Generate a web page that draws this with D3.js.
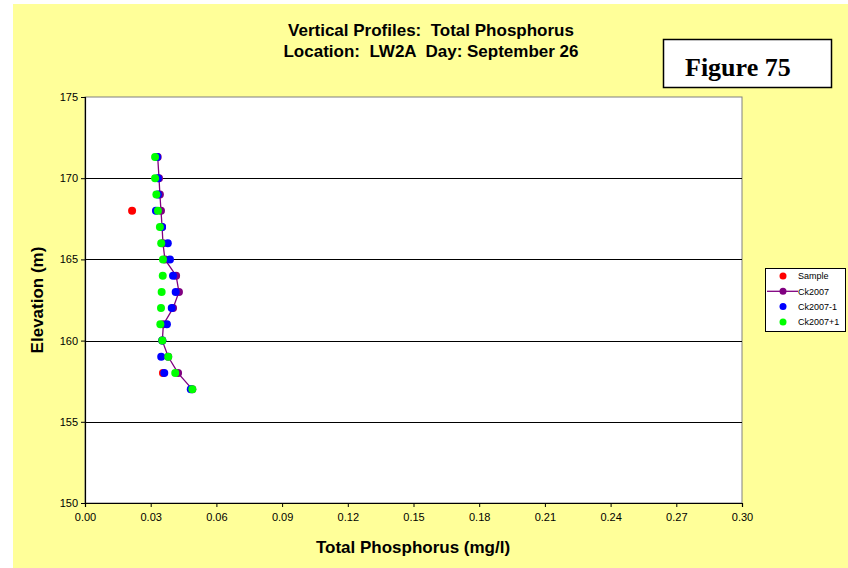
<!DOCTYPE html>
<html>
<head>
<meta charset="utf-8">
<script src="https://cdn.jsdelivr.net/npm/d3@7"></script>
<style>
  html, body { margin: 0; padding: 0; background: #ffffff; }
  svg { display: block; font-family: "Liberation Sans", Arial, sans-serif; }
  text { white-space: pre; }
</style>
</head>
<body>
<svg id="chart" width="848" height="568"></svg>
<script>
// Elevation (m) of each sampled depth
const elevations = [171.3, 170, 169, 168, 167, 166, 165, 164, 163, 162, 161, 160, 159, 158, 157];

// Total phosphorus (mg/l) per model run, one value per elevation
const ck2007      = [0.0332, 0.0338, 0.0342, 0.0347, 0.0352, 0.0356, 0.0365, 0.0416, 0.0429, 0.0402, 0.0358, 0.0353, 0.0380, 0.0425, 0.0490];
const ck2007minus = [0.0329, 0.0333, 0.0333, 0.0324, 0.0352, 0.0378, 0.0388, 0.0402, 0.0414, 0.0396, 0.0374, 0.0353, 0.0348, 0.0362, 0.0483];
const ck2007plus  = [0.0320, 0.0320, 0.0326, 0.0333, 0.0342, 0.0348, 0.0356, 0.0355, 0.0350, 0.0347, 0.0344, 0.0353, 0.0380, 0.0412, 0.0490];

// Field samples
const sampleElev = [168, 158];
const sampleTP   = [0.0215, 0.0356];

// Axis ticks
const xTicks = [0.00, 0.03, 0.06, 0.09, 0.12, 0.15, 0.18, 0.21, 0.24, 0.27, 0.30];
const yTicks = [150, 155, 160, 165, 170, 175];

const seriesNames = ["Sample", "Ck2007", "Ck2007-1", "Ck2007+1"];
const seriesColors = ["#ff0000", "#800080", "#0000ff", "#00ff00"];

const svg = d3.select("#chart");

// Yellow chart background
svg.append("rect").attr("x", 13).attr("y", 4).attr("width", 835).attr("height", 564).attr("fill", "#ffff99");

const plot = { left: 85, right: 742, top: 97, bottom: 503 };

const x = d3.scaleLinear().domain([0, 0.30]).range([plot.left, plot.right]);
const y = d3.scaleLinear().domain([150, 175]).range([plot.bottom, plot.top]);

// Plot area
svg.append("rect")
  .attr("x", plot.left).attr("y", plot.top)
  .attr("width", plot.right - plot.left).attr("height", plot.bottom - plot.top)
  .attr("fill", "#ffffff").attr("stroke", "#808080").attr("stroke-width", 1);

// Horizontal gridlines
svg.append("g").selectAll("line")
  .data(yTicks.filter(t => t > 150 && t < 175))
  .join("line")
  .attr("x1", plot.left).attr("x2", plot.right)
  .attr("y1", d => Math.round(y(d)) + 0.5).attr("y2", d => Math.round(y(d)) + 0.5)
  .attr("stroke", "#000000").attr("stroke-width", 1);

// Axes
const xAxis = svg.append("g")
  .attr("transform", `translate(0,${plot.bottom})`)
  .call(d3.axisBottom(x).tickValues(xTicks).tickFormat(d3.format(".2f")).tickSize(4).tickPadding(6));
const yAxis = svg.append("g")
  .attr("transform", `translate(${plot.left},0)`)
  .call(d3.axisLeft(y).tickValues(yTicks).tickFormat(d3.format("d")).tickSize(4).tickPadding(3));

[xAxis, yAxis].forEach(g => {
  g.select(".domain").attr("stroke", "#000000").attr("stroke-width", 1.2);
  g.selectAll(".tick line").attr("stroke", "#000000");
  g.selectAll(".tick text").attr("fill", "#000000")
    .style("font-family", "'Liberation Sans', Arial, sans-serif").style("font-size", "11px");
});

// Ck2007 profile line
const line = d3.line().x(d => x(d[0])).y(d => y(d[1]));
svg.append("path")
  .datum(ck2007.map((v, i) => [v, elevations[i]]))
  .attr("d", line).attr("fill", "none").attr("stroke", "#800080").attr("stroke-width", 1.3);

function drawPoints(values, elevs, color) {
  svg.append("g").selectAll("circle")
    .data(values.map((v, i) => [v, elevs[i]]))
    .join("circle")
    .attr("cx", d => x(d[0])).attr("cy", d => y(d[1]))
    .attr("r", 4).attr("fill", color);
}

drawPoints(sampleTP, sampleElev, seriesColors[0]);
drawPoints(ck2007, elevations, seriesColors[1]);
drawPoints(ck2007minus, elevations, seriesColors[2]);
drawPoints(ck2007plus, elevations, seriesColors[3]);

// Titles
const title = svg.append("g").attr("font-weight", "bold").attr("font-size", "17px").attr("text-anchor", "middle");
title.append("text").attr("x", 431).attr("y", 36).text("Vertical Profiles:  Total Phosphorus");
title.append("text").attr("x", 431).attr("y", 57).text("Location:  LW2A  Day: September 26");

svg.append("text")
  .attr("x", 413).attr("y", 553)
  .attr("text-anchor", "middle").attr("font-weight", "bold").attr("font-size", "17px")
  .text("Total Phosphorus (mg/l)");

svg.append("text")
  .attr("transform", "translate(43,300) rotate(-90)")
  .attr("text-anchor", "middle").attr("font-weight", "bold").attr("font-size", "17px")
  .text("Elevation (m)");

// Figure label box
svg.append("rect").attr("x", 663.5).attr("y", 39.5).attr("width", 168).attr("height", 48)
  .attr("fill", "#ffffff").attr("stroke", "#000000").attr("stroke-width", 1.5);
svg.append("text")
  .attr("x", 685).attr("y", 76)
  .attr("font-family", "'Liberation Serif', 'Times New Roman', serif")
  .attr("font-weight", "bold").attr("font-size", "26px")
  .text("Figure 75");

// Legend
const legend = svg.append("g");
legend.append("rect").attr("x", 765.5).attr("y", 268.5).attr("width", 80).attr("height", 63)
  .attr("fill", "#ffffff").attr("stroke", "#000000").attr("stroke-width", 1);
seriesNames.forEach((name, i) => {
  const ly = 276 + i * 15.3;
  if (name === "Ck2007") {
    legend.append("line").attr("x1", 767).attr("x2", 798).attr("y1", ly).attr("y2", ly)
      .attr("stroke", seriesColors[i]).attr("stroke-width", 1.3);
  }
  legend.append("circle").attr("cx", 783).attr("cy", ly).attr("r", 3.5).attr("fill", seriesColors[i]);
  legend.append("text").attr("x", 798).attr("y", ly + 3.2).attr("font-size", "9px").text(name);
});
</script>
</body>
</html>
